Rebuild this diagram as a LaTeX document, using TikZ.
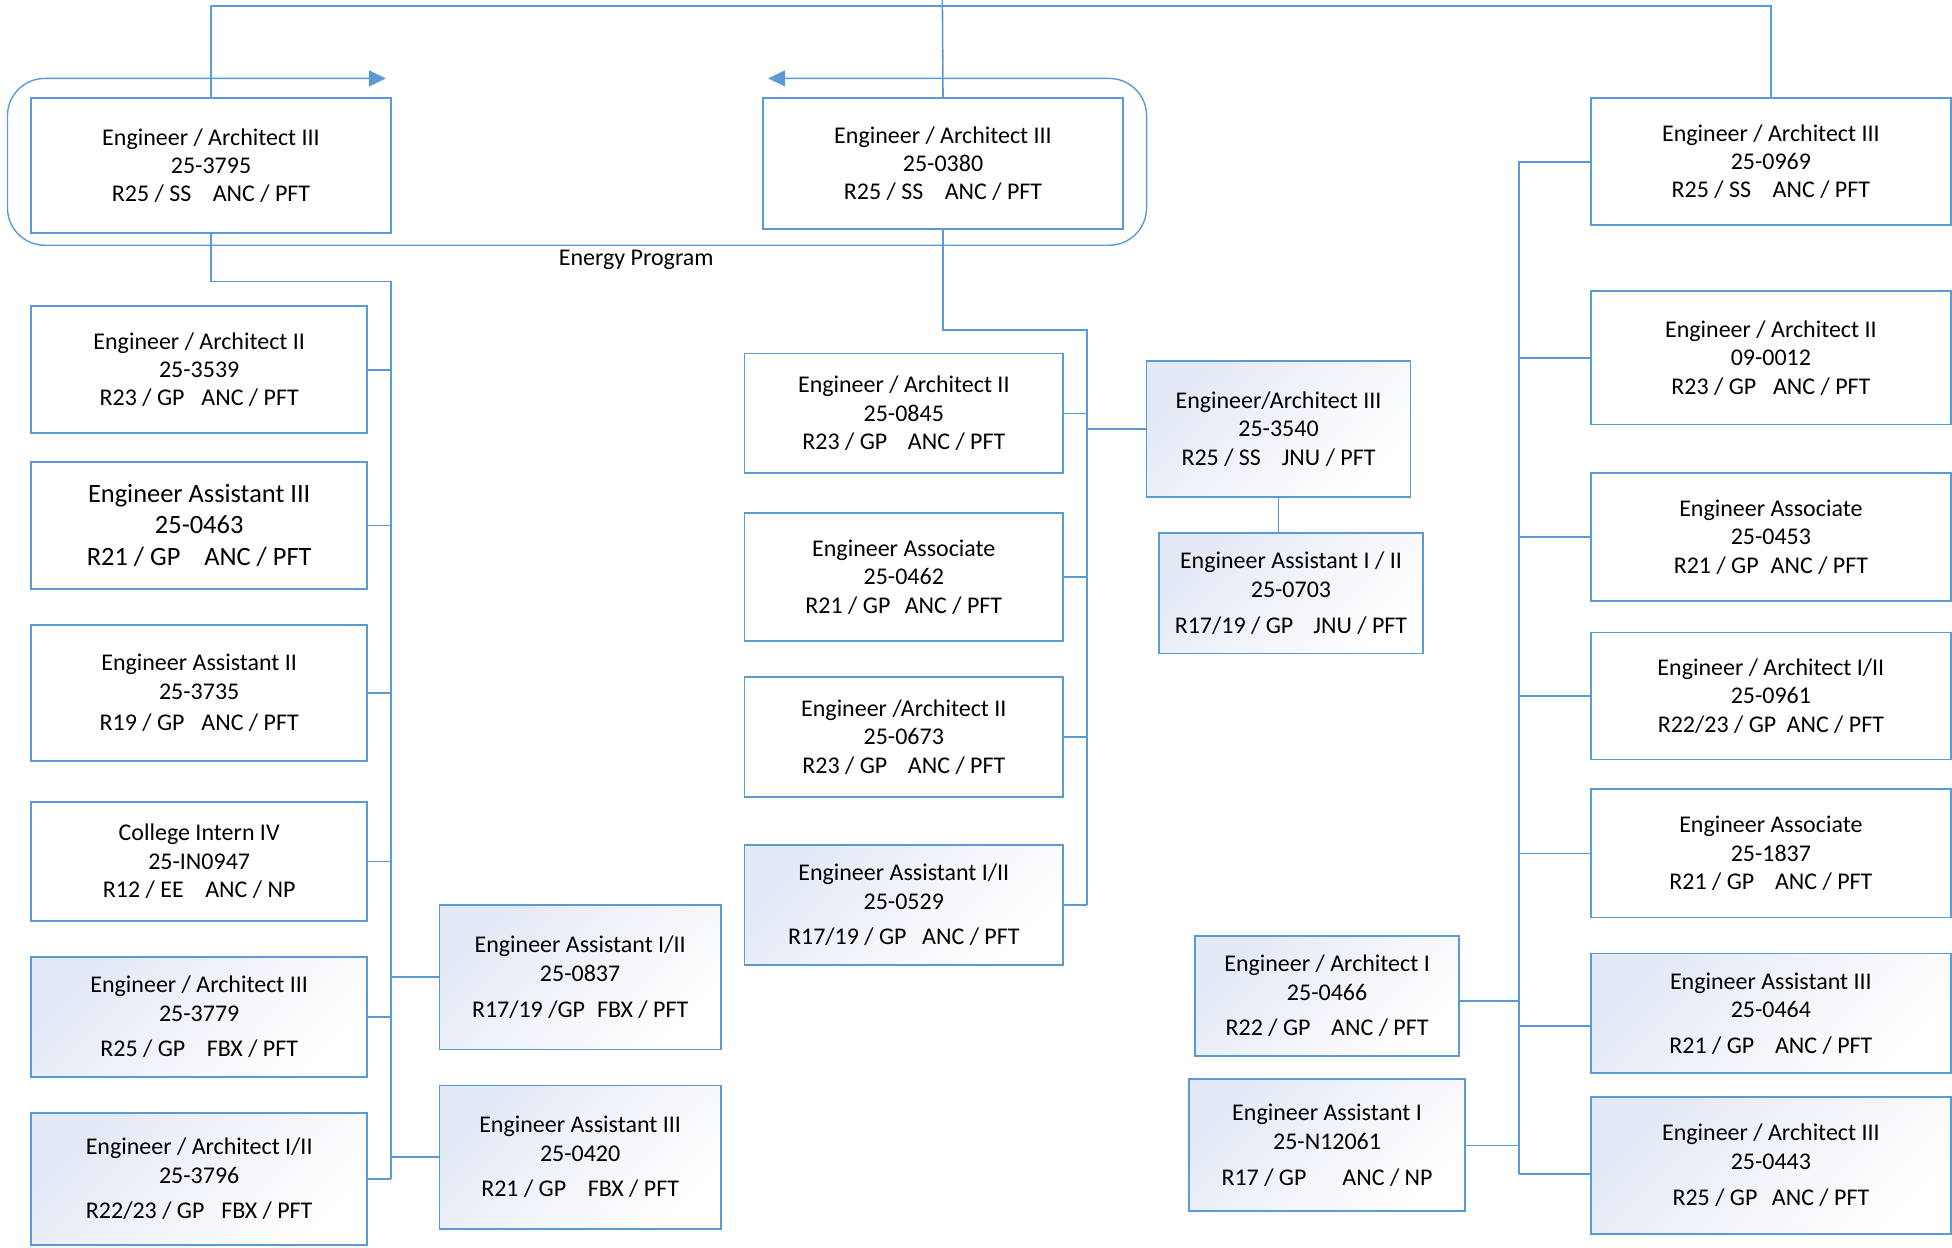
\documentclass[tikz,border=0pt]{standalone}
\usepackage{fontspec}
\setmainfont{Carlito}
\usetikzlibrary{arrows.meta}
\definecolor{orgblue}{HTML}{5B9BD5}
\definecolor{boxtint}{HTML}{E3E9F5}
\tikzset{
  box/.style={draw=orgblue, line width=1pt, fill=white, align=center, inner sep=0pt,
    font=\fontsize{13.7}{16.2}\selectfont},
  tintbox/.style={box, top color=boxtint, bottom color=white, shading angle=45},
  link/.style={draw=orgblue, line width=0.9pt},
}
\begin{document}
\begin{tikzpicture}[x=0.25mm, y=-0.25mm]
    \useasboundingbox (0,0) rectangle (1568,1002);

    % Nodes
    \node[box, minimum width=72.25mm, minimum height=27mm] (3795) at (169.5,133) {Engineer / Architect III\\25-3795\\R25 / SS\hspace{0.9em}ANC / PFT};
    \node[box, minimum width=72.25mm, minimum height=26.25mm] (0380) at (757.5,131.5) {Engineer / Architect III\\25-0380\\R25 / SS\hspace{0.9em}ANC / PFT};
    \node[box, minimum width=72.25mm, minimum height=25.5mm] (0969) at (1422.5,130) {Engineer / Architect III\\25-0969\\R25 / SS\hspace{0.9em}ANC / PFT};

    \node[box, minimum width=67.5mm, minimum height=25.5mm] (3539) at (160,297) {Engineer / Architect II\\25-3539\\R23 / GP\hspace{0.7em}ANC / PFT};
    \node[box, minimum width=67.5mm, minimum height=25.5mm, font=\fontsize{15.1}{17.9}\selectfont] (0463) at (160,422) {Engineer Assistant III\\25-0463\\R21 / GP\hspace{0.9em}ANC / PFT};
    \node[box, minimum width=67.5mm, minimum height=27.25mm] (3735) at (160,556.5) {Engineer Assistant II\\25-3735\\[0.6mm]R19 / GP\hspace{0.7em}ANC / PFT};
    \node[box, minimum width=67.5mm, minimum height=24mm] (IN0947) at (160,692) {College Intern IV\\25-IN0947\\R12 / EE\hspace{0.9em}ANC / NP};
    \node[tintbox, minimum width=67.5mm, minimum height=24mm] (3779) at (160,817) {Engineer / Architect III\\25-3779\\[1.5mm]R25 / GP\hspace{0.9em}FBX / PFT};
    \node[tintbox, minimum width=67.5mm, minimum height=26.5mm] (3796) at (160,947) {Engineer / Architect I/II\\25-3796\\[1.5mm]R22/23 / GP\hspace{0.7em}FBX / PFT};
    \node[tintbox, minimum width=56.5mm, minimum height=29mm] (0837) at (466,785) {Engineer Assistant I/II\\25-0837\\[1.5mm]R17/19 /GP\hspace{0.5em}FBX / PFT};
    \node[tintbox, minimum width=56.5mm, minimum height=28.75mm] (0420) at (466,929.5) {Engineer Assistant III\\25-0420\\[1.5mm]R21 / GP\hspace{0.9em}FBX / PFT};

    \node[box, minimum width=64mm, minimum height=24mm] (0845) at (726,332) {Engineer / Architect II\\25-0845\\R23 / GP\hspace{0.86em}ANC / PFT};
    \node[box, minimum width=64mm, minimum height=25.75mm] (0462) at (726,463.5) {Engineer Associate\\25-0462\\R21 / GP\hspace{0.6em}ANC / PFT};
    \node[box, minimum width=64mm, minimum height=24mm] (0673) at (726,592) {Engineer /Architect II\\25-0673\\R23 / GP\hspace{0.86em}ANC / PFT};
    \node[tintbox, minimum width=64mm, minimum height=24mm] (0529) at (726,727) {Engineer Assistant I/II\\25-0529\\[1.5mm]R17/19 / GP\hspace{0.65em}ANC / PFT};
    \node[tintbox, minimum width=53mm, minimum height=27.25mm] (3540) at (1027,344.5) {Engineer/Architect III\\25-3540\\R25 / SS\hspace{0.87em}JNU / PFT};
    \node[tintbox, minimum width=53mm, minimum height=24.25mm] (0703) at (1037,476.5) {Engineer Assistant I / II\\25-0703\\[1.5mm]R17/19 / GP\hspace{0.84em}JNU / PFT};

    \node[box, minimum width=72.25mm, minimum height=26.75mm] (0012) at (1422.5,287.5) {Engineer / Architect II\\09-0012\\R23 / GP\hspace{0.7em}ANC / PFT};
    \node[box, minimum width=72.25mm, minimum height=25.75mm] (0453) at (1422.5,431.5) {Engineer Associate\\25-0453\\R21 / GP\hspace{0.5em}ANC / PFT};
    \node[box, minimum width=72.25mm, minimum height=25.5mm] (0961) at (1422.5,559) {Engineer / Architect I/II\\25-0961\\R22/23 / GP\hspace{0.43em}ANC / PFT};
    \node[box, minimum width=72.25mm, minimum height=25.75mm] (1837) at (1422.5,685.5) {Engineer Associate\\25-1837\\R21 / GP\hspace{0.86em}ANC / PFT};
    \node[tintbox, minimum width=72.25mm, minimum height=24mm] (0464) at (1422.5,814) {Engineer Assistant III\\25-0464\\[1.5mm]R21 / GP\hspace{0.86em}ANC / PFT};
    \node[tintbox, minimum width=72.25mm, minimum height=27.5mm] (0443) at (1422.5,936) {Engineer / Architect III\\25-0443\\[1.5mm]R25 / GP\hspace{0.6em}ANC / PFT};
    \node[tintbox, minimum width=53mm, minimum height=24mm] (0466) at (1066,800) {Engineer / Architect I\\25-0466\\[1.5mm]R22 / GP\hspace{0.86em}ANC / PFT};
    \node[tintbox, minimum width=55.5mm, minimum height=26.5mm] (N12061) at (1066,920) {Engineer Assistant I\\25-N12061\\[1.5mm]R17 / GP\hspace{1.5em}ANC / NP};

    \node[font=\fontsize{13.7}{16.2}\selectfont] (energy) at (511,209) {Energy Program};

    % Energy Program group
    \draw[orgblue, line width=0.8pt, rounded corners=7.5mm, {Triangle[length=3.4mm,width=3.2mm]}-{Triangle[length=3.4mm,width=3.2mm]}]
      (310,63) -- (6,63) -- (6,197) -- (921,197) -- (921,63) -- (617,63);

    % Edges
    \coordinate (top) at (757,0);
    \coordinate (bus) at (757,5);
    \coordinate (ltrunk) at (314,226);
    \coordinate (mtrunk) at (873,265);
    \coordinate (rtrunk) at (1220,943);

    \draw[link] (3795.north) |- (bus) -| (0969.north);
    \draw[link] (top) -- (0380.north);

    \draw[link] (3795.south) |- (ltrunk) -- (3796.east -| ltrunk);
    \draw[link] (3539.east) -- (3539.east -| ltrunk);
    \draw[link] (0463.east) -- (0463.east -| ltrunk);
    \draw[link] (3735.east) -- (3735.east -| ltrunk);
    \draw[link] (IN0947.east) -- (IN0947.east -| ltrunk);
    \draw[link] (3779.east) -- (3779.east -| ltrunk);
    \draw[link] (3796.east) -- (3796.east -| ltrunk);
    \draw[link] (0837.west) -- (0837.west -| ltrunk);
    \draw[link] (0420.west) -- (0420.west -| ltrunk);

    \draw[link] (0380.south) |- (mtrunk) -- (0529.east -| mtrunk);
    \draw[link] (0845.east) -- (0845.east -| mtrunk);
    \draw[link] (0462.east) -- (0462.east -| mtrunk);
    \draw[link] (0673.east) -- (0673.east -| mtrunk);
    \draw[link] (0529.east) -- (0529.east -| mtrunk);
    \draw[link] (3540.west) -- (3540.west -| mtrunk);
    \draw[link] (3540.south) -- (3540.south |- 0703.north);

    \draw[link] (0969.west) -| (rtrunk);
    \draw[link] (0012.west) -- (0012.west -| rtrunk);
    \draw[link] (0453.west) -- (0453.west -| rtrunk);
    \draw[link] (0961.west) -- (0961.west -| rtrunk);
    \draw[link] (1837.west) -- (1837.west -| rtrunk);
    \draw[link] ([yshift=-2.5mm]0464.west) -- ([yshift=-2.5mm]0464.west -| rtrunk);
    \draw[link] ([yshift=-1.75mm]0443.west) -- ([yshift=-1.75mm]0443.west -| rtrunk);
    \draw[link] ([yshift=-1mm]0466.east) -- ([yshift=-1mm]0466.east -| rtrunk);
    \draw[link] (N12061.east) -- (N12061.east -| rtrunk);
\end{tikzpicture}
\end{document}
